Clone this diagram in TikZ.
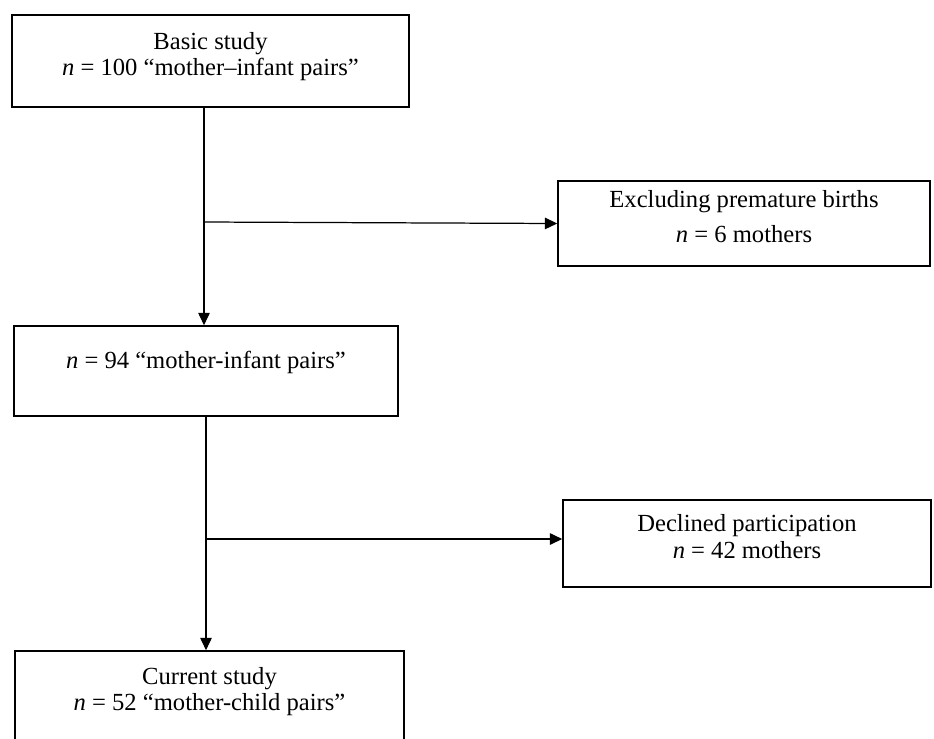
\documentclass[tikz,border=0pt]{standalone}
\usepackage{fontspec}
\setmainfont{Liberation Serif}
\usetikzlibrary{arrows.meta}

\tikzset{
  stepbox/.style={draw, line width=0.9pt, inner sep=0pt, align=center,
    font=\fontsize{14}{15.3}\selectfont, text depth=8pt},
  flow/.style={line width=0.7pt, -{Triangle[length=7pt,width=6.5pt]}},
  plain/.style={line width=0.7pt}
}

\begin{document}
\begin{tikzpicture}[x=0.02cm,y=-0.02cm]

% Frame
\useasboundingbox (0,0) rectangle (934,738);

% Boxes
\node[stepbox, minimum width=7.94cm, minimum height=1.84cm] (base) at (210.5,61)
  {Basic study\\ \textit{n} = 100 ``mother--infant pairs''};
\node[stepbox, minimum width=7.44cm, minimum height=1.70cm,
  font=\fontsize{14}{20}\selectfont] (excl) at (744,223.5)
  {Excluding premature births\\ \textit{n} = 6 mothers};
\node[stepbox, minimum width=7.68cm, minimum height=1.80cm, text depth=13pt] (pairs) at (206,371)
  {\textit{n} = 94 ``mother-infant pairs''};
\node[stepbox, minimum width=7.36cm, minimum height=1.74cm] (decl) at (747,543.5)
  {Declined participation\\ \textit{n} = 42 mothers};
\node[stepbox, minimum width=7.78cm, minimum height=1.80cm] (curr) at (209.5,696)
  {Current study\\ \textit{n} = 52 ``mother-child pairs''};

% Branch points
\coordinate (j1) at (204,222);
\coordinate (j2) at (206,539);

% Connectors
\draw[plain] (base.south -| j1) -- (j1);
\draw[flow] (j1) -- (j1 |- pairs.north);
\draw[flow] (j1) -- (excl.west);
\draw[plain] (pairs.south -| j2) -- (j2);
\draw[flow] (j2) -- (j2 |- curr.north);
\draw[flow] (j2) -- (j2 -| decl.west);

\end{tikzpicture}
\end{document}
